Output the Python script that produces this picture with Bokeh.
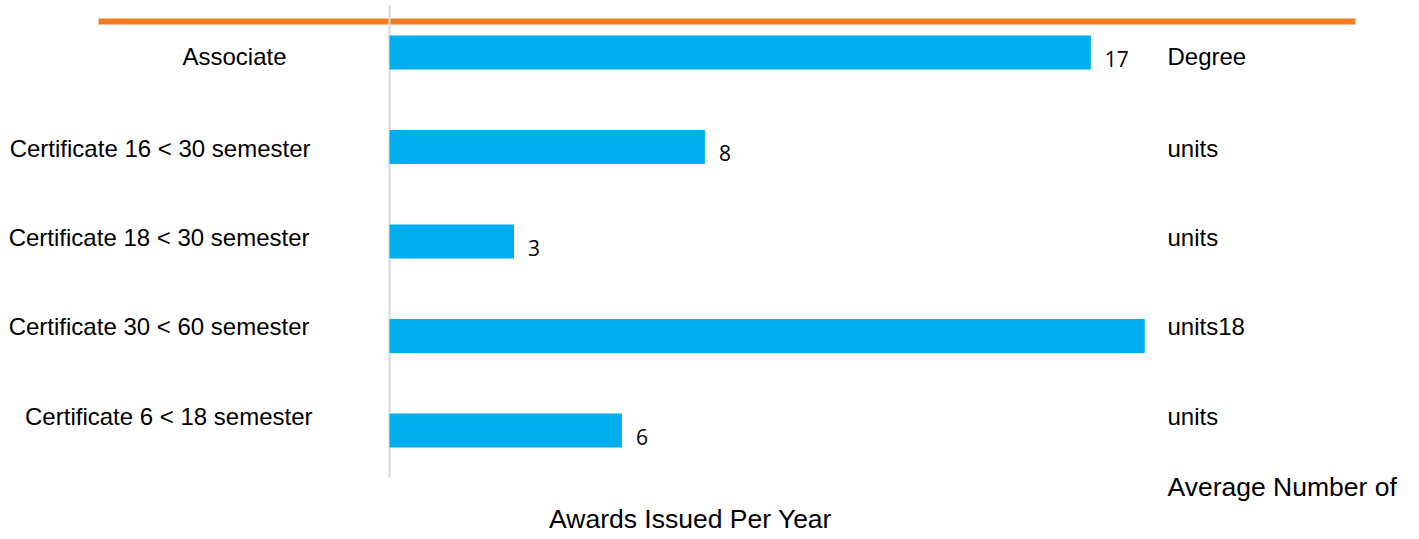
from bokeh.plotting import figure
from bokeh.models import Range1d
from bokeh.core.properties import value
from bokeh.embed import file_html
from bokeh.resources import INLINE

# ---- data ----
categories = [
    "Associate",
    "Certificate 16 < 30 semester",
    "Certificate 18 < 30 semester",
    "Certificate 30 < 60 semester",
    "Certificate 6 < 18 semester",
]
awards = [16.9, 7.6, 3.0, 18.2, 5.6]
value_labels = ["17", "8", "3", "", "6"]
overflow_text = ["Degree", "units", "units", "units18", "units"]
axis_title_1 = "Average Number of"
axis_title_2 = "Awards Issued Per Year"

# ---- layout ----
W, H = 1403, 539
PX_PER_UNIT = 41.5
AXIS_PX = 389
ROW0_PX = 52
ROW_STEP = 94.5


def sx(px):
    return (px - AXIS_PX) / PX_PER_UNIT


def sy(px):
    return (px - ROW0_PX) / ROW_STEP


rows = list(range(len(categories)))

p = figure(
    width=W, height=H,
    x_range=Range1d(sx(0), sx(W)),
    y_range=Range1d(sy(H), sy(0)),
    output_backend="svg", toolbar_location=None,
    x_axis_location=None, y_axis_location=None,
    min_border=0, outline_line_color=None,
    background_fill_color="white", border_fill_color="white",
)
p.xgrid.visible = False
p.ygrid.visible = False

# orange top rule
p.segment(x0=[sx(98)], y0=[sy(21)], x1=[sx(1355)], y1=[sy(21)],
          line_color="#F47C20", line_width=6)

# vertical axis line
p.segment(x0=[0], y0=[-0.5], x1=[0], y1=[len(categories) - 0.5],
          line_color="#D9D9D9", line_width=2)

# bars
p.hbar(y=rows, left=0, right=awards, height=34 / ROW_STEP,
       fill_color="#00AEEF", line_color=None)

# value labels
p.text(x=awards, y=rows, text=value_labels, x_offset=14, y_offset=6,
       text_font=value("Open Sans"), text_font_size="21px",
       text_color="#000000", text_align="left", text_baseline="alphabetic")

row_dy = [4, 1, -4, -10, -14]

# category labels
p.text(x=[0] * len(rows), y=rows, text=categories,
       x_offset=[-103, -79, -80, -80, -77], y_offset=row_dy,
       text_font=value("Liberation Sans"), text_font_size="24px",
       text_color="#000000", text_align="right", text_baseline="alphabetic")

# overflow texts on the right
p.text(x=[0] * len(rows), y=rows, text=overflow_text,
       x_offset=778, y_offset=row_dy,
       text_font=value("Liberation Sans"), text_font_size="24px",
       text_color="#000000", text_align="left", text_baseline="alphabetic")

# axis title (split)
last = len(rows) - 1
p.text(x=[0], y=[last], text=[axis_title_1], x_offset=778, y_offset=56,
       text_font=value("Liberation Sans"), text_font_size="26.5px",
       text_color="#000000", text_align="left", text_baseline="alphabetic")
p.text(x=[0], y=[last], text=[axis_title_2], x_offset=301, y_offset=88,
       text_font=value("Liberation Sans"), text_font_size="26.5px",
       text_color="#000000", text_align="center", text_baseline="alphabetic")

open("out.html", "w").write(file_html(p, INLINE))
